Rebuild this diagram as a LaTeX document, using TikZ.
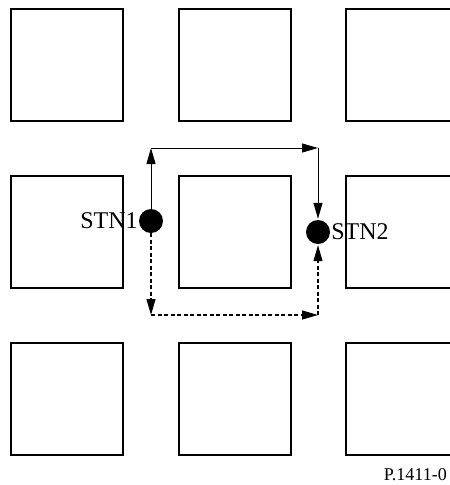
\documentclass[tikz,border=0pt]{standalone}
\usepackage{fontspec}
\setmainfont{Liberation Serif}
\usetikzlibrary{arrows.meta, positioning}

\begin{document}
\begin{tikzpicture}[
  x=1pt, y=-1pt,
  block/.style = {draw, line width=1.6pt, minimum size=112pt, inner sep=0pt},
  station/.style = {circle, fill=black, minimum size=24pt, inner sep=0pt},
  route/.style = {-{Triangle[length=16pt, width=9pt]}, line width=1pt},
  detour/.style = {route, line width=1.2pt, dash pattern=on 4pt off 2.5pt},
  every node/.style = {font=\fontsize{24}{28}\selectfont}
]

% Frame
\useasboundingbox (0,0) rectangle (450,485);
\clip (0,0) rectangle (450,485);

% Parameters
\def\colA{67}
\def\colB{235}
\def\colC{402}
\def\rowA{65}
\def\rowB{232}
\def\rowC{399}

% Buildings
\node[block] (b11) at (\colA,\rowA) {};
\node[block] (b12) at (\colB,\rowA) {};
\node[block] (b13) at (\colC,\rowA) {};
\node[block] (b21) at (\colA,\rowB) {};
\node[block] (b22) at (\colB,\rowB) {};
\node[block] (b23) at (\colC,\rowB) {};
\node[block] (b31) at (\colA,\rowC) {};
\node[block] (b32) at (\colB,\rowC) {};
\node[block] (b33) at (\colC,\rowC) {};

% Stations
\node[station] (stn1) at (151,221) {};
\node[station] (stn2) at (318,232) {};
\node[left=0pt of stn1, inner sep=1pt] (lbl1) {STN1};
\node[right=0pt of stn2, inner sep=1pt] (lbl2) {STN2};

% Corners
\coordinate (nw) at (151,148);
\coordinate (ne) at (318,148);
\coordinate (sw) at (151,315);
\coordinate (se) at (318,315);

% Upper route
\draw[route] (stn1) -- (nw);
\draw[route] (nw) -- (ne);
\draw[route, shorten >=1pt] (ne) -- (stn2);

% Lower route
\draw[detour] (stn1) -- (sw);
\draw[detour] (sw) -- (se);
\draw[detour, shorten >=1pt] (se) -- (stn2);

% Figure number
\node[anchor=base east, inner sep=0pt, font=\fontsize{18}{22}\selectfont] (fig) at (447,480) {P.1411-0};

\end{tikzpicture}
\end{document}
